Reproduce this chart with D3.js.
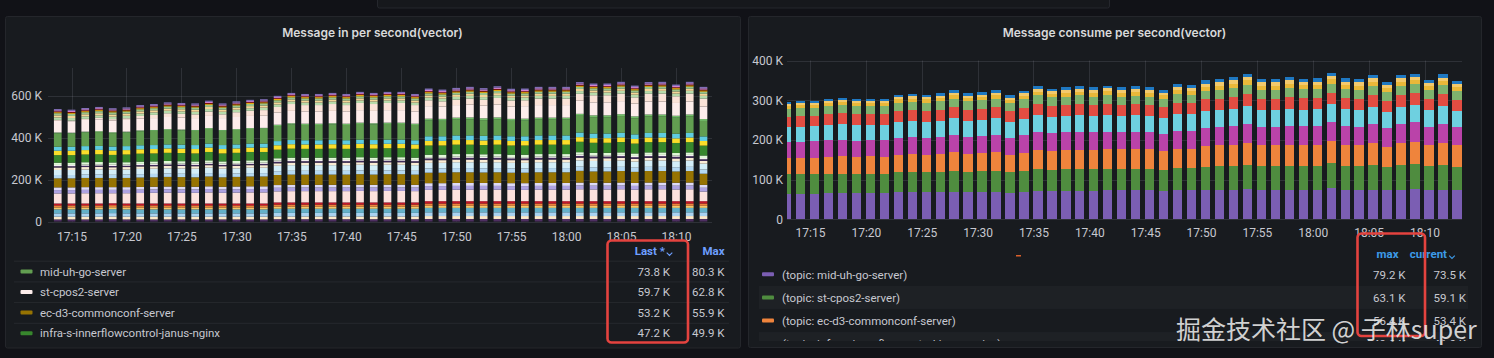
<!DOCTYPE html>
<html><head><meta charset="utf-8">
<script src="https://cdn.jsdelivr.net/npm/d3@7"></script>
<style>
html,body{margin:0;padding:0;background:#111217;overflow:hidden;}
svg{display:block;}
</style></head><body>
<svg id="c" width="1494" height="358"></svg>
<script>
// ---------------- DATA ----------------
const xTickLabels = ["17:15","17:20","17:25","17:30","17:35","17:40","17:45","17:50","17:55","18:00","18:05","18:10"];

const leftTimes = ["17:13:45","17:15:00","17:16:15","17:17:30","17:18:45","17:20:00","17:21:15","17:22:30","17:23:45","17:25:00","17:26:15","17:27:30","17:28:45","17:30:00","17:31:15","17:32:30","17:33:45","17:35:00","17:36:15","17:37:30","17:38:45","17:40:00","17:41:15","17:42:30","17:43:45","17:45:00","17:46:15","17:47:30","17:48:45","17:50:00","17:51:15","17:52:30","17:53:45","17:55:00","17:56:15","17:57:30","17:58:45","18:00:00","18:01:15","18:02:30","18:03:45","18:05:00","18:06:15","18:07:30","18:08:45","18:10:00","18:11:15","18:12:30"];

const rightTimes = ["17:12:54","17:14:09","17:15:24","17:16:39","17:17:54","17:19:09","17:20:24","17:21:39","17:22:54","17:24:09","17:25:24","17:26:39","17:27:54","17:29:09","17:30:24","17:31:39","17:32:54","17:34:09","17:35:24","17:36:39","17:37:54","17:39:09","17:40:24","17:41:39","17:42:54","17:44:09","17:45:24","17:46:39","17:47:54","17:49:09","17:50:24","17:51:39","17:52:54","17:54:09","17:55:24","17:56:39","17:57:54","17:59:09","18:00:24","18:01:39","18:02:54","18:04:09","18:05:24","18:06:39","18:07:54","18:09:09","18:10:24","18:11:39","18:12:54"];

// Left panel series (K msg/s), bottom -> top
const leftNames = ["pay-gateway-server","user-profile-server","search-index-server","goods-center-server","coupon-server","order-sync-server","risk-engine-server","st-ocs-server","im-push-server","im-msg-server","ec-d3-commonconf-server","log-agent-server","trace-collector","member-server","mid-cache-sync","cms-server","report-server","infra-s-innerflowcontrol-janus-nginx","stock-server","delivery-server","mid-uh-go-server","mid-uh-java-server","st-cpos2-server","st-cpos-server","bi-etl-server","marketing-server","notice-server","audit-server","data-sync-server","ops-monitor","config-center"];
const leftColors = ["#4e2f62","#FCEACA","#A9D2F0","#64B0C8","#F2C96D","#EF843C","#C4162A","#FCE2DE","#AEA2E0","#DEDAF7","#967302","#B5D9F2","#D3EEF8","#F9EBD3","#3F2B5B","#F4EEF0","#E0F9D7","#37872D","#FADE2A","#5FCCE0","#629E51","#73BF69","#FDEDEB","#FBE3D8","#B7DBAB","#F4D598","#9AC48A","#E5AC0E","#890F02","#D683CE","#806EB7"];

const l01 = [11,11,11,11,12,11,11,11,11,11,11,11,11,11,11,11, 12,12,12,12,12,12,12,12,12,12,12, 13,13,13,13,13,13,13,13,13,13, 13,13,13,13,13,13,13,13,13,13, 13];
const l02 = [13,13,13,13,13,13,13,13,13,13,13,13,13,13,13,13, 13,13,13,13,13,13,13,13,13,13,13, 14,14,14,14,14,14,14,14,14,14, 14,14,14,14,14,14,14,14,14,14, 14];
const l03 = [16,16,16,16,16,16,16,16,16,16,16,16,16,16,16,16, 17,17,17,17,17,17,17,17,17,17,17, 18,18,18,18,18,18,18,18,18,18, 18,18,18,18,18,18,18,18,18,18, 18];
const l04 = [19,19,19,19,19,19,19,19,19,19,19,19,19,19,19,19, 20,20,20,20,20,20,20,20,20,20,20, 21,21,21,21,21,21,21,21,21,21, 21,21,21,21,21,21,21,21,21,21, 21];
const l05 = [9,9,9,9,9,9,9,9,9,9,9,9,9,9,9,9, 10,10,10,10,10,10,10,10,10,10,10, 10,10,10,10,10,10,10,10,10,10, 10,10,10,10,10,10,10,10,10,10, 10];
const l06 = [10,10,10,10,10,10,10,10,10,10,10,10,10,10,10,10, 10,10,10,10,10,10,10,10,10,10,10, 11,11,11,11,11,11,11,11,11,11, 11,11,11,11,11,11,11,11,11,11, 11];
const l07 = [9,9,9,9,9,9,9,9,9,9,9,9,9,9,9,9, 10,10,10,10,10,10,10,10,10,10,10, 11,11,11,11,11,11,11,11,11,11, 11,11,11,11,11,11,11,11,11,11, 11];
const l08 = [48,48,49,49,48,49,50,51,52,51,51,53,51,52,53,53, 53,54,54,54,54,54,55,54,55,55,54, 54,54,55,55,55,55,54,54,55,55, 55,57,56,56,57,55,57,57,56,57, 46];
const l09 = [16,16,16,16,16,16,16,16,16,16,16,16,16,16,16,16, 17,17,17,17,17,17,17,17,17,17,17, 18,18,18,18,18,18,18,18,18,18, 18,18,18,18,18,18,18,18,18,18, 18];
const l10 = [13,13,13,13,13,13,13,13,13,13,13,13,13,13,13,13, 13,13,13,13,13,13,13,13,13,13,13, 14,14,14,14,14,14,14,14,14,14, 14,14,14,14,14,14,14,14,14,14, 14];
const l11 = [43,43,44,44,43,44,45,45,46,46,45,47,45,46,47,47, 48,49,49,49,49,49,50,49,50,50,49, 50,50,51,51,50,51,50,50,51,51, 51,55.9,54,54,55,53,55,55,54,55, 53.2];
const l12 = [16,16,16,16,16,16,16,16,16,16,16,16,16,16,16,16, 18,18,18,18,18,18,18,18,18,18,18, 20,20,20,20,20,20,20,20,20,20, 20,20,20,20,20,20,20,20,20,20, 20];
const l13 = [24,24,24,25,24,24,25,25,25,25,25,26,25,25,26,26, 26,27,27,27,27,27,27,27,27,27,27, 27,27,28,28,28,28,27,27,28,28, 28,30,30,30,30,29,30,30,29,30, 28];
const l14 = [12,12,12,12,12,12,12,12,12,12,12,12,12,12,12,12, 12,12,12,12,12,12,12,12,12,12,12, 13,13,13,13,13,13,13,13,13,13, 13,13,13,13,13,13,13,13,13,13, 13];
const l15 = [6,6,6,6,6,6,6,6,6,6,6,6,6,6,6,6, 7,7,7,7,7,7,7,7,7,7,7, 8,8,8,8,8,8,8,8,8,8, 8,8,8,8,8,8,8,8,8,8, 8];
const l16 = [6,6,6,6,6,6,6,6,6,6,6,6,6,6,6,6, 6,6,6,6,6,6,6,6,6,6,6, 6,6,6,6,6,6,6,6,6,6, 6,6,6,6,6,6,6,6,6,6, 6];
const l17 = [11,11,11,11,11,11,11,11,11,11,11,11,11,11,11,11, 11,11,11,11,11,11,11,11,11,11,11, 12,12,12,12,12,12,12,12,12,12, 12,12,12,12,12,12,12,12,12,12, 12];
const l18 = [36,36,37,37,36,37,38,38,39,39,38,40,38,39,40,40, 41,43,42,42,43,42,43,43,43,43,42, 44,44,45,45,44,45,44,44,45,45, 45,49.9,48,48,49.5,47,49,49,48,49, 47.2];
const l19 = [21,21,21,21,21,21,21,21,21,21,21,21,21,21,21,21, 21,21,21,21,21,21,21,21,21,21,21, 22,22,22,22,22,22,22,22,22,22, 22,22,22,22,22,22,22,22,22,22, 22];
const l20 = [19,19,19,19,19,19,19,19,19,19,19,19,19,19,19,19, 20,20,20,20,20,20,20,20,20,20,20, 22,22,22,22,22,22,22,22,22,22, 22,22,22,22,22,22,22,22,22,22, 22];
const l21 = [64,63,65,66,64,65,67,68,69,68,68,70,68,69,70,71, 72,74,73,73,74,73,75,74,75,75,73, 75,74,76,77,75,77,74,75,76,76, 76,80.3,78,78,80,77,79,79,77,79, 73.8];
const l22 = [4,4,4,4,4,4,4,4,4,4,4,4,4,4,4,4, 6,6,6,6,6,6,6,6,6,6,6, 9,9,9,9,9,9,9,9,9,9, 9,9,9,9,9,9,9,9,9,9, 9];
const l23 = [56,55,56,57,56,56,57,57,58,57,57,58,57,58,58,58, 58,59,59,59,59,59,60,59,60,60,59, 60,59,60,61,60,61,59,60,60,60, 60,62.8,62,62,62.5,61,62,62,61,62, 59.7];
const l24 = [4,3,5,7,7,8,12,15,18,18,18,21,18,23,25,27, 27,33,30,30,33,30,34,33,34,34,30, 28,25,26,29,28,32,29,28,31,31, 31,33,34,34,36,30,37,38,32,38, 38];
const l25 = [12,12,12,12,12,12,12,12,12,12,12,12,12,12,12,12, 12,12,12,12,12,12,12,12,12,12,12, 13,13,13,13,13,13,13,13,13,13, 13,13,13,13,13,13,13,13,13,13, 13];
const l26 = [10,10,10,10,10,10,10,10,10,10,10,10,10,10,10,10, 10,10,10,10,10,10,10,10,10,10,10, 10,10,10,10,10,10,10,10,10,10, 10,10,10,10,10,10,10,10,10,10, 10];
const l27 = [10,10,10,10,10,10,10,10,10,10,10,10,10,10,10,10, 10,10,10,10,10,10,10,10,10,10,10, 10,10,10,10,10,10,10,10,10,10, 10,10,10,10,10,10,10,10,10,10, 10];
const l28 = [5,5,5,5,5,5,5,5,5,5,5,5,5,5,5,5, 6,6,6,6,6,6,6,6,6,6,6, 6,6,6,6,6,6,6,6,6,6, 6,6,6,6,6,6,6,6,6,6, 6];
const l29 = [4,4,4,4,4,4,4,4,4,4,4,4,4,4,4,4, 4,4,4,4,4,4,4,4,4,4,4, 4,4,4,4,4,4,4,4,4,4, 4,4,4,4,4,4,4,4,4,4, 4];
const l30 = [5,5,5,5,5,5,5,5,5,5,5,5,5,5,5,5, 5,5,5,5,5,5,5,5,5,5,5, 6,6,6,6,6,6,6,6,6,6, 6,6,6,6,6,6,6,6,6,6, 6];
const l31 = [6,6,6,6,6,6,6,6,6,6,6,6,6,6,6,6, 6,6,6,6,6,6,6,6,6,6,6, 7,7,7,7,7,7,7,7,7,7, 7,7,7,7,7,7,7,7,7,7, 7];
const leftSeries = [l01,l02,l03,l04,l05,l06,l07,l08,l09,l10,l11,l12,l13,l14,l15,l16,l17,l18,l19,l20,l21,l22,l23,l24,l25,l26,l27,l28,l29,l30,l31];

// Right panel series (K msg/s), bottom -> top
const rightNames = ["(topic: mid-uh-go-server)","(topic: st-cpos2-server)","(topic: ec-d3-commonconf-server)","(topic: infra-s-innerflowcontrol-janus-nginx)","(topic: st-ocs-server)","(topic: im-push-server)","(topic: goods-center-server)","(topic: stock-server)","(topic: coupon-server)","(topic: search-index-server)"];
const rightColors = ["#7B5EB3","#4F8C3F","#EF843C","#BA43A9","#6ED0E0","#E24D42","#7EB26D","#EAB839","#F2C96D","#1F78C1"];
const rPU = [64,64,63,65,65,65,66,65,68,68, 68,69,70,69,69,70,67,70,72,72, 72,72,72,73,73,73,73,71,73,73, 74,74,75,76,74,74,75,74,74,79.2, 74,74,75,73,75,76,74,75,73.5];
const rGR = [49,49,50,50,50,49,49,50,50,51, 50,51,52,51,52,52,51,52,54,53, 54,54,54,54,54,54,54,53,55,55, 58,59,60,61,59,59,60,59,60,62, 60,59,61,58,61,63.1,59,62,59.1];
const rOR = [42,42,42,43,44,43,44,43,45,45, 45,45,47,45,46,47,45,46,49,48, 48,49,48,50,49,50,49,48,50,50, 52,53,53,55,53,53,53,53,53,56, 53,53,55,52,55,56.4,53,55,53.4];
const rMG = [40,40,41,41,41,41,41,41,42,43, 42,43,44,43,43,44,42,44,45,44, 45,45,45,44,44,44,44,43,45,45, 47,47,48,49,47,47,48,48,48,49, 48,47,49,46,49,49,47,49,46];
const rCY = [37,38,38,39,39,39,38,39,40,40, 40,40,41,40,41,41,39,41,42,41, 41,42,41,42,41,42,41,40,42,42, 42,42,43,44,42,42,43,42,42,43, 42,42,44,42,44,44,42,44,41];
const rRD = [26,27,26,28,28,28,28,28,28,28, 28,28,29,28,28,29,28,28,28,28, 28,28,28,28,27,27,27,27,28,28, 29,29,29,30,29,29,29,29,29,29, 29,29,30,28,30,30,29,30,28];
const rLG = [20,20,20,20,21,20,20,20,21,21, 21,21,21,21,21,21,21,21,22,21, 21,22,21,22,21,21,21,21,22,21, 22,22,23,23,22,22,23,22,22,23, 22,22,22,21,22,22,22,23,22];
const rYE = [7,7,7,8,8,8,8,8,8,8, 8,8,9,8,8,9,7,9,9,9, 9,9,9,10,10,10,10,9,10,10, 10,11,11,12,11,11,11,11,11,12, 11,11,11,10,11,11,10,11,10];
const rGO = [5,5,5,5,5,5,5,5,6,6, 6,6,6,6,6,6,6,6,7,7, 7,7,7,7,7,7,7,7,7,7, 8,8,8,8,8,8,8,8,8,8, 8,8,8,8,8,8,8,8,8];
const rBL = [5,5,5,5,5,5,5,5,6,6, 6,6,6,6,6,6,6,6,7,6, 7,7,7,7,7,7,7,7,8,7, 8,8,8,9,8,8,8,8,8,8, 8,8,8,8,8,7.5,8,8,7];
const rightSeries = [rPU,rGR,rOR,rMG,rCY,rRD,rLG,rYE,rGO,rBL];

const leftYTicks = [0,200,400,600];
const rightYTicks = [0,100,200,300,400];

// ---------------- DRAW ----------------
const W = 1494, H = 358;
const FONT = "Roboto, 'Noto Sans', sans-serif";
const TFONT = "Inter, 'Noto Sans', sans-serif";
const FS = 11.5;
const TXT = "#c7c8d0";
const GRID = "rgba(204,204,220,0.13)";
const svg = d3.select("#c");
const defs = svg.append("defs");

const parseT = s => { const p = s.split(":").map(Number); return new Date(Date.UTC(2023,0,1,p[0],p[1],p[2]||0)); };
const fmtK = v => d3.format(".1f")(v) + " K";

svg.append("rect").attr("width", W).attr("height", H).attr("fill", "#111217");
// partial panel at top
svg.append("rect").attr("x", 377.5).attr("y", -6).attr("width", 732).attr("height", 14).attr("rx", 2)
  .attr("fill", "#16181c").attr("stroke", "#25272d");

function panel(x, y, w, h, title) {
  svg.append("rect").attr("x", x + 0.5).attr("y", y + 0.5).attr("width", w).attr("height", h).attr("rx", 2)
    .attr("fill", "#181b1f").attr("stroke", "#24262b");
  svg.append("text").attr("x", x + w / 2).attr("y", y + 20.5).attr("text-anchor", "middle")
    .attr("fill", "#d8d9da").attr("font-family", TFONT).attr("font-size", 12).attr("font-weight", 600).text(title);
}
panel(5, 16, 735, 331.5, "Message in per second(vector)");
panel(748, 16, 733, 331, "Message consume per second(vector)");

function chart(c) {
  const x = d3.scaleUtc().domain([parseT("17:15:00"), parseT("18:10:00")]).range([c.xa, c.xb]);
  const y = d3.scaleLinear().domain([0, c.ymax]).range([c.yBottom, c.yTop]);
  const tickDates = xTickLabels.map(s => parseT(s + ":00"));
  const g = svg.append("g");
  g.append("g").selectAll("line").data(c.yTicks).join("line")
    .attr("x1", c.px0).attr("x2", c.px1)
    .attr("y1", d => Math.round(y(d)) + 0.5).attr("y2", d => Math.round(y(d)) + 0.5)
    .attr("stroke", GRID);
  g.append("g").selectAll("line").data(tickDates).join("line")
    .attr("x1", d => Math.round(x(d)) + 0.5).attr("x2", d => Math.round(x(d)) + 0.5)
    .attr("y1", c.yTop).attr("y2", c.yBottom)
    .attr("stroke", GRID);

  const rows = c.times.map((t, i) => {
    const r = { t: parseT(t) };
    c.names.forEach((n, k) => r[n] = c.series[k][i]);
    return r;
  });
  const stacked = d3.stack().keys(c.names)(rows);

  defs.append("clipPath").attr("id", c.id).append("rect")
    .attr("x", c.px0).attr("y", c.yTop - 5).attr("width", c.px1 - c.px0).attr("height", c.yBottom - c.yTop + 5);
  const bars = g.append("g").attr("clip-path", `url(#${c.id})`);
  bars.selectAll("g").data(stacked).join("g").attr("fill", (d, i) => c.colors[i])
    .selectAll("rect").data(d => d).join("rect")
    .attr("x", d => x(d.data.t) - c.bw / 2).attr("width", c.bw)
    .attr("y", d => y(d[1])).attr("height", d => Math.max(0, y(d[0]) - y(d[1])))
    .attr("shape-rendering", c.crisp ? "crispEdges" : null);

  const ya = g.append("g").attr("transform", `translate(${c.axisX},0)`)
    .call(d3.axisLeft(y).tickValues(c.yTicks).tickFormat(v => v === 0 ? "0" : v + " K").tickSize(0).tickPadding(4));
  ya.select(".domain").remove();
  ya.attr("font-family", FONT).attr("font-size", 12).style("color", TXT);

  const xa = g.append("g").attr("transform", `translate(0,${c.xAxisY})`)
    .call(d3.axisBottom(x).tickValues(tickDates).tickFormat(d3.utcFormat("%H:%M")).tickSize(0).tickPadding(8));
  xa.select(".domain").remove();
  xa.attr("font-family", FONT).attr("font-size", 12).style("color", TXT);
}

chart({ id: "clipL", times: leftTimes, names: leftNames, colors: leftColors, series: leftSeries,
  xa: 71.5, xb: 676, px0: 48, px1: 712, yBottom: 221.7, yTop: 68, ymax: 734, yTicks: leftYTicks,
  bw: 7.7, axisX: 46, xAxisY: 224, crisp: false });
chart({ id: "clipR", times: rightTimes, names: rightNames, colors: rightColors, series: rightSeries,
  xa: 810, xb: 1424.5, px0: 787, px1: 1462, yBottom: 219.3, yTop: 60.5, ymax: 400, yTicks: rightYTicks,
  bw: 9.3, axisX: 787, xAxisY: 220, crisp: true });

function chevron(x, y, color) {
  svg.append("path").attr("d", `M${x - 2.8},${y - 1.4} L${x},${y + 1.4} L${x + 2.8},${y - 1.4}`)
    .attr("fill", "none").attr("stroke", color).attr("stroke-width", 1.1);
}

// ---------- left legend ----------
{
  const rows = leftNames.map((n, i) => ({ name: n, color: leftColors[i], last: leftSeries[i][leftSeries[i].length - 1], max: d3.max(leftSeries[i]) }))
    .sort((a, b) => b.last - a.last).slice(0, 4);
  const blue = "#6E9FFF";
  const lg = svg.append("g").attr("font-family", FONT).attr("font-size", FS);
  lg.append("text").attr("x", 665).attr("y", 254.5).attr("text-anchor", "end").attr("fill", blue).attr("font-weight", 700).text("Last *");
  chevron(669.5, 254, blue);
  lg.append("text").attr("x", 724.5).attr("y", 254.5).attr("text-anchor", "end").attr("fill", blue).attr("font-weight", 700).text("Max");
  defs.append("clipPath").attr("id", "clipLL").append("rect").attr("x", 5).attr("y", 258).attr("width", 735).attr("height", 85);
  const body = lg.append("g").attr("clip-path", "url(#clipLL)");
  const sepY = [260.7, 281.4, 302.1, 322.8];
  body.selectAll("line").data(sepY).join("line").attr("x1", 14).attr("x2", 729)
    .attr("y1", d => d + 0.5).attr("y2", d => d + 0.5).attr("stroke", "rgba(204,204,220,0.08)");
  const rowY = [271.5, 292, 312.5, 333.2];
  const r = body.selectAll("g.row").data(rows).join("g").attr("class", "row").attr("transform", (d, i) => `translate(0,${rowY[i]})`);
  r.append("rect").attr("x", 20.5).attr("y", -2).attr("width", 12).attr("height", 4).attr("rx", 1).attr("fill", d => d.color);
  r.append("text").attr("x", 40).attr("y", 4.2).attr("fill", TXT).text(d => d.name);
  r.append("text").attr("x", 670).attr("y", 4.2).attr("text-anchor", "end").attr("fill", TXT).text(d => fmtK(d.last));
  r.append("text").attr("x", 724.5).attr("y", 4.2).attr("text-anchor", "end").attr("fill", TXT).text(d => fmtK(d.max));
}

// ---------- right legend ----------
{
  const rows = rightNames.map((n, i) => ({ name: n, color: rightColors[i], cur: rightSeries[i][rightSeries[i].length - 1], max: d3.max(rightSeries[i]) }))
    .sort((a, b) => b.cur - a.cur).slice(0, 4);
  const blue = "#3D9BE9";
  const lg = svg.append("g").attr("font-family", FONT).attr("font-size", FS);
  lg.append("text").attr("x", 1398.5).attr("y", 257.5).attr("text-anchor", "end").attr("fill", blue).attr("font-weight", 700).text("max");
  lg.append("text").attr("x", 1447).attr("y", 257.5).attr("text-anchor", "end").attr("fill", blue).attr("font-weight", 700).text("current");
  chevron(1452, 257, blue);
  defs.append("clipPath").attr("id", "clipRL").append("rect").attr("x", 748).attr("y", 262).attr("width", 733).attr("height", 79);
  const body = lg.append("g").attr("clip-path", "url(#clipRL)");
  const rowY = [274.3, 297.4, 320.5, 343.6];
  const r = body.selectAll("g.row").data(rows).join("g").attr("class", "row").attr("transform", (d, i) => `translate(0,${rowY[i]})`);
  r.filter((d, i) => i % 2 === 1).append("rect").attr("x", 759).attr("y", -11.5).attr("width", 709).attr("height", 23)
    .attr("fill", "rgba(204,204,220,0.035)");
  r.append("rect").attr("x", 762).attr("y", -2).attr("width", 12).attr("height", 4).attr("rx", 1).attr("fill", d => d.color);
  r.append("text").attr("x", 782).attr("y", 4.2).attr("fill", TXT).text(d => d.name);
  r.append("text").attr("x", 1405.5).attr("y", 4.2).attr("text-anchor", "end").attr("fill", TXT).text(d => fmtK(d.max));
  r.append("text").attr("x", 1466).attr("y", 4.2).attr("text-anchor", "end").attr("fill", TXT).text(d => fmtK(d.cur));
}

// small orange mark in right legend header
svg.append("rect").attr("x", 1016).attr("y", 255).attr("width", 5).attr("height", 1.5).attr("fill", "#d9602b");

// red annotation boxes
svg.append("rect").attr("x", 607.5).attr("y", 240.5).attr("width", 80.5).attr("height", 102).attr("rx", 4)
  .attr("fill", "none").attr("stroke", "#E4433F").attr("stroke-width", 2.6);
svg.append("rect").attr("x", 1357.5).attr("y", 233.5).attr("width", 67.5).attr("height", 102.5).attr("rx", 4)
  .attr("fill", "none").attr("stroke", "#E4433F").attr("stroke-width", 2.6);

// watermark
svg.append("text").attr("x", 1176).attr("y", 338.5).attr("font-family", "'Noto Sans CJK SC', sans-serif")
  .attr("font-size", 25).attr("fill", "#e4e4e4").attr("fill-opacity", 0.92).text("掘金技术社区 @ 子林super");
</script>
</body></html>
